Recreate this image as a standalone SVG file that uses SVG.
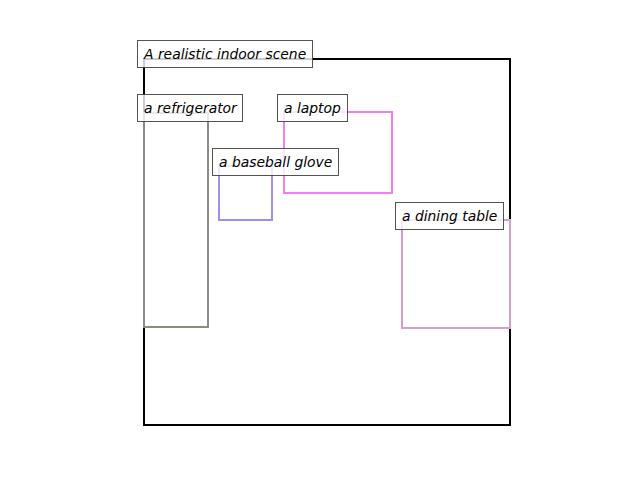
<svg xmlns="http://www.w3.org/2000/svg" width="640" height="480" viewBox="0 0 640 480">
<style>
.box{fill:none;stroke-width:2}
.lb{fill:#fff;fill-opacity:0.8;stroke:#404040;stroke-opacity:0.9;stroke-width:1}
.t{font-family:"DejaVu Sans",sans-serif;font-style:oblique;font-size:13.89px;fill:#000}
</style>
<rect width="640" height="480" fill="#fff"/>
<g id="scene"><rect class="box" x="144" y="59" width="366" height="366" stroke="#000"/></g>
<g id="refrigerator"><rect class="box" x="144" y="113" width="64" height="214" stroke="#8c8c80"/></g>
<g id="laptop"><rect class="box" x="284" y="112" width="108" height="81" stroke="#f080f0"/></g>
<g id="glove"><rect class="box" x="219" y="166" width="53" height="54" stroke="#9f8fe8"/></g>
<g id="table"><rect class="box" x="402" y="220" width="108" height="108" stroke="#d0a0d0"/></g>
<g id="labels">
<g id="label-scene"><rect class="lb" x="137.5" y="40.5" width="175" height="27"/><text class="t" x="144" y="59">A realistic indoor scene</text></g>
<g id="label-refrigerator"><rect class="lb" x="137.5" y="94.5" width="105" height="27"/><text class="t" x="144" y="113">a refrigerator</text></g>
<g id="label-laptop"><rect class="lb" x="277.5" y="94.5" width="70" height="27"/><text class="t" x="284" y="113">a laptop</text></g>
<g id="label-glove"><rect class="lb" x="212.5" y="148.5" width="126" height="27"/><text class="t" x="219" y="167">a baseball glove</text></g>
<g id="label-table"><rect class="lb" x="395.5" y="202.5" width="108" height="27"/><text class="t" x="402" y="221">a dining table</text></g>
</g>
</svg>
